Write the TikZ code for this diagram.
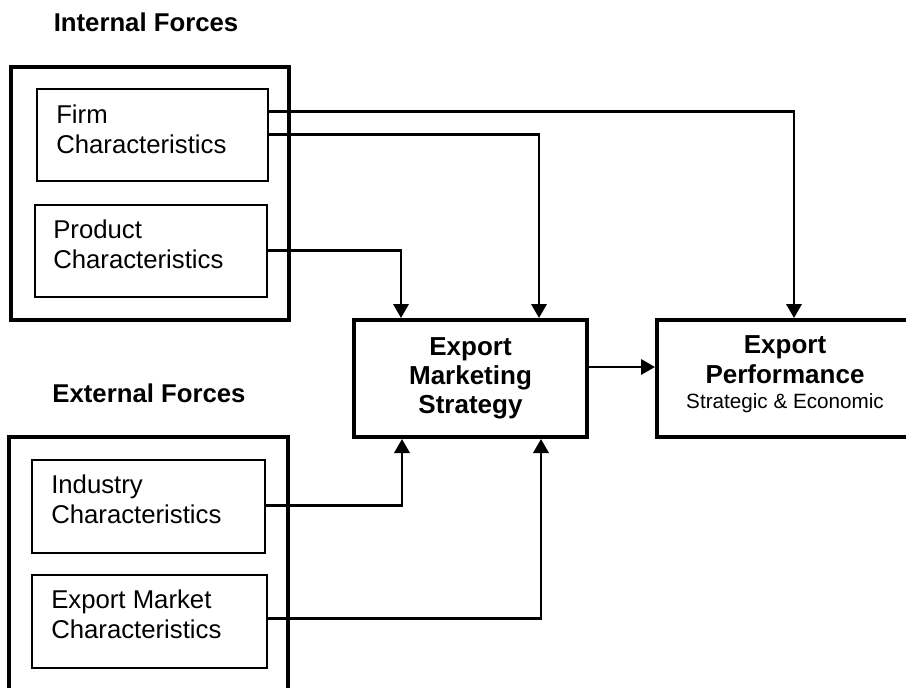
\documentclass[tikz,border=0pt]{standalone}
\usepackage{fontspec}
\setmainfont{Liberation Sans}
\usetikzlibrary{arrows.meta,calc}

\begin{document}
\begin{tikzpicture}[x=0.75pt,y=-0.75pt,
  frame/.style={draw, line width=3pt, inner sep=0pt},
  factor/.style={draw, line width=2.2pt, inner sep=0pt},
  core/.style={draw, line width=3pt, inner sep=0pt},
  lbl/.style={anchor=north west, inner sep=0pt, align=left,
    font=\fontsize{19.3}{22.5}\selectfont},
  head/.style={anchor=base, inner sep=0pt,
    font=\fontsize{19.3}{23}\selectfont\bfseries},
  corelbl/.style={anchor=north, inner sep=0pt, align=center,
    font=\fontsize{19.5}{22}\selectfont\bfseries},
  sub/.style={anchor=base, inner sep=0pt, font=\fontsize{15.5}{18}\selectfont},
  conn/.style={line width=1.9pt, -{Triangle[length=10.5pt,width=11.5pt]}}]

\useasboundingbox (0,0) rectangle (906,688);
\clip (0,0) rectangle (906,688);

% group frames
\node[frame, minimum width=208.5pt, minimum height=189.75pt] (internal) at (150,193.5) {};
\node[frame, minimum width=209.25pt, minimum height=208.5pt] (external) at (148.5,576) {};

% factor boxes
\node[factor, minimum width=173.25pt, minimum height=69pt] (firm) at (152.5,135) {};
\node[factor, minimum width=174pt, minimum height=69pt] (product) at (151,251) {};
\node[factor, minimum width=174.75pt, minimum height=69.75pt] (industry) at (148.5,506.5) {};
\node[factor, minimum width=176.25pt, minimum height=69.75pt] (market) at (149.5,621.5) {};

% strategy and performance
\node[core, minimum width=174.75pt, minimum height=87.75pt] (strategy) at (470.5,378.5) {};
\node[core, minimum width=192pt, minimum height=87.75pt] (perf) at (785,378.5) {};

% texts
\node[head] (inttitle) at (146,32) {Internal Forces};
\node[head] (exttitle) at (149,402) {External Forces};
\node[lbl] (firmtext) at (56,105) {Firm\\Characteristics};
\node[lbl] (producttext) at (53,220) {Product\\Characteristics};
\node[lbl] (industrytext) at (51,475) {Industry\\Characteristics};
\node[lbl] (markettext) at (51,590) {Export Market\\Characteristics};
\node[corelbl] (strategytext) at (470.5,337) {Export\\Marketing\\Strategy};
\node[corelbl, font=\fontsize{19.5}{22.5}\selectfont\bfseries] (perftext) at (785,335) {Export\\Performance};
\node[sub] (perfsub) at (785,408) {Strategic \& Economic};

% connectors
\draw[conn] ($(firm.north east)+(0,24)$) -| ($(perf.north west)+(139,0)$);
\draw[conn] ($(firm.north east)+(0,47)$) -| ($(strategy.north west)+(187,0)$);
\draw[conn] ($(product.north east)+(0,47)$) -| ($(strategy.north west)+(49,0)$);
\draw[conn] ($(industry.north east)+(0,47)$) -| ($(strategy.south west)+(50,0)$);
\draw[conn] ($(market.north east)+(0,45)$) -| ($(strategy.south west)+(189,0)$);
\draw[conn] ($(strategy.east)+(0,-11.5)$) -- ($(perf.west)+(0,-11.5)$);
\end{tikzpicture}
\end{document}
